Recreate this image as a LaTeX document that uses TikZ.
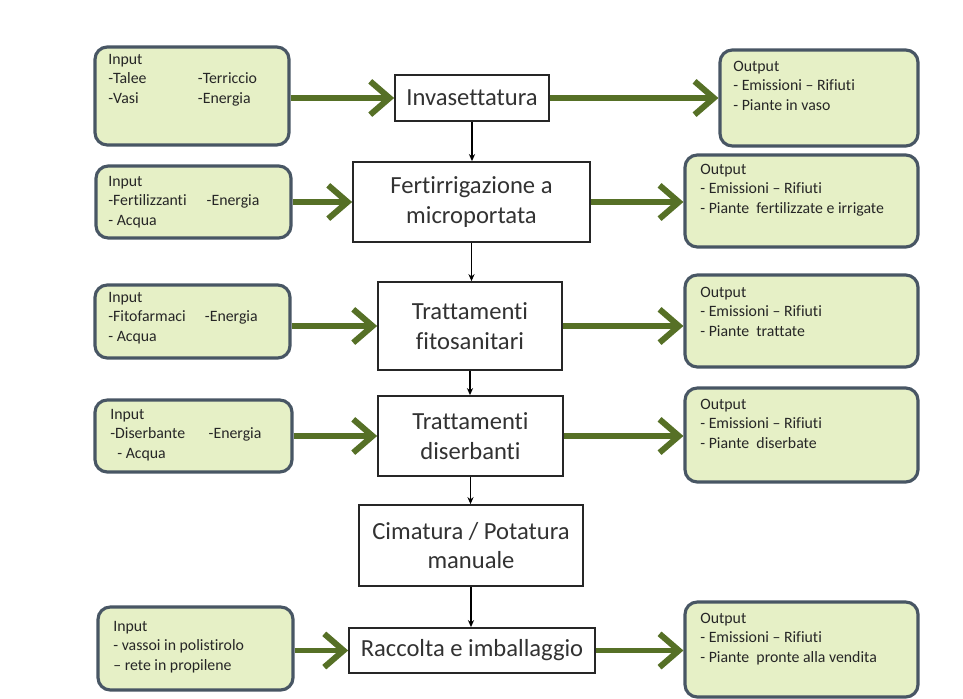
\documentclass[tikz,border=0pt]{standalone}
\usepackage{fontspec}
\setmainfont{Carlito}[Ligatures=NoCommon]
\usetikzlibrary{arrows.meta,fit}
\definecolor{flowgreen}{RGB}{86,112,38}
\definecolor{boxfill}{RGB}{230,240,198}
\definecolor{boxline}{RGB}{72,86,100}
\definecolor{maintext}{RGB}{50,50,50}
\begin{document}
\begin{tikzpicture}[x=0.02cm,y=-0.02cm,
 iobox/.style={draw=boxline, line width=1.8pt, fill=boxfill, rounded corners=7pt, inner sep=0pt},
 mainbox/.style={draw=black!85, line width=1pt, fill=white, inner sep=0pt},
 maintxt/.style={inner sep=0pt, text=maintext, font=\fontsize{14}{17}\selectfont, align=center},
 iotext/.style={anchor=north west, inner sep=0pt, align=left, font=\fontsize{9}{11}\selectfont, text=black!85},
 flow/.style={draw=flowgreen, line width=3.4pt, -{Straight Barb[length=11pt,width=19pt]}},
 down/.style={draw=black, line width=0.7pt, -{Stealth[length=4pt,width=3.5pt]}}]
\useasboundingbox (0,0) rectangle (963,699);

% main process boxes
\node[mainbox, fit={(395,75) (549,121)}] (m1) {};
\node[maintxt] (m1t) at (m1) {Invasettatura};
\node[mainbox, fit={(353,162) (590,242)}] (m2) {};
\node[maintxt] (m2t) at (m2) {Fertirrigazione a\\microportata};
\node[mainbox, fit={(378,282) (562,370)}] (m3) {};
\node[maintxt] (m3t) at (m3) {Trattamenti\\fitosanitari};
\node[mainbox, fit={(378,396) (563,476)}] (m4) {};
\node[maintxt] (m4t) at (m4) {Trattamenti\\diserbanti};
\node[mainbox, fit={(359,505) (583,586)}] (m5) {};
\node[maintxt] (m5t) at (m5) {Cimatura / Potatura\\manuale};
\node[mainbox, fit={(349,628) (595,673)}] (m6) {};
\node[maintxt] (m6t) at (m6) {Raccolta e imballaggio};

% input boxes
\node[iobox, fit={(95,47) (289,145)}] (in1) {};
\node[iotext] (in1t) at (108,54) {Input\\\makebox[51pt][l]{-Talee}-Terriccio\\\makebox[51pt][l]{-Vasi}-Energia};
\node[iobox, fit={(96,166) (291,238)}] (in2) {};
\node[iotext] (in2t) at (108,176) {Input\\\makebox[56pt][l]{-Fertilizzanti}-Energia\\- Acqua};
\node[iobox, fit={(95,285) (290,358)}] (in3) {};
\node[iotext] (in3t) at (108,292) {Input\\\makebox[55pt][l]{-Fitofarmaci}-Energia\\- Acqua};
\node[iobox, fit={(95,400) (292,472)}] (in4) {};
\node[iotext] (in4t) at (110,409) {Input\\\makebox[56pt][l]{-Diserbante}-Energia\\\hspace*{4pt}- Acqua};
\node[iobox, fit={(98,607) (293,690)}] (in6) {};
\node[iotext] (in6t) at (113,621) {Input\\- vassoi in polistirolo\\– rete in propilene};

% output boxes
\node[iobox, fit={(720,50) (918,146)}] (out1) {};
\node[iotext] (out1t) at (733,61) {Output\\- Emissioni – Rifiuti\\- Piante in vaso};
\node[iobox, fit={(685,155) (918,247)}] (out2) {};
\node[iotext] (out2t) at (700,164) {Output\\- Emissioni – Rifiuti\\- Piante~ fertilizzate e irrigate};
\node[iobox, fit={(685,275) (918,367)}] (out3) {};
\node[iotext] (out3t) at (700,287) {Output\\- Emissioni – Rifiuti\\- Piante~ trattate};
\node[iobox, fit={(685,388) (918,482)}] (out4) {};
\node[iotext] (out4t) at (700,399) {Output\\- Emissioni – Rifiuti\\- Piante~ diserbate};
\node[iobox, fit={(685,602) (918,697)}] (out6) {};
\node[iotext] (out6t) at (700,613) {Output\\- Emissioni – Rifiuti\\- Piante~ pronte alla vendita};

% green flow arrows
\draw[flow] (in1.east |- m1) -- (m1.west);
\draw[flow] (m1.east) -- (m1.east -| out1.west);
\draw[flow] (in2.east |- m2) -- (m2.west);
\draw[flow] (m2.east) -- (m2.east -| out2.west);
\draw[flow] (in3.east |- m3) -- (m3.west);
\draw[flow] (m3.east) -- (m3.east -| out3.west);
\draw[flow] (in4.east |- m4) -- (m4.west);
\draw[flow] (m4.east) -- (m4.east -| out4.west);
\draw[flow] (in6.east |- m6) -- (m6.west);
\draw[flow] (m6.east) -- (m6.east -| out6.west);

% vertical process arrows
\draw[down] (m1.south) -- (m1.south |- m2.north);
\draw[down] (m2.south) -- (m2.south |- m3.north);
\draw[down] (m3.south) -- (m3.south |- m4.north);
\draw[down] (m4.south) -- (m4.south |- m5.north);
\draw[down] (m5.south) -- (m5.south |- m6.north);
\end{tikzpicture}
\end{document}
